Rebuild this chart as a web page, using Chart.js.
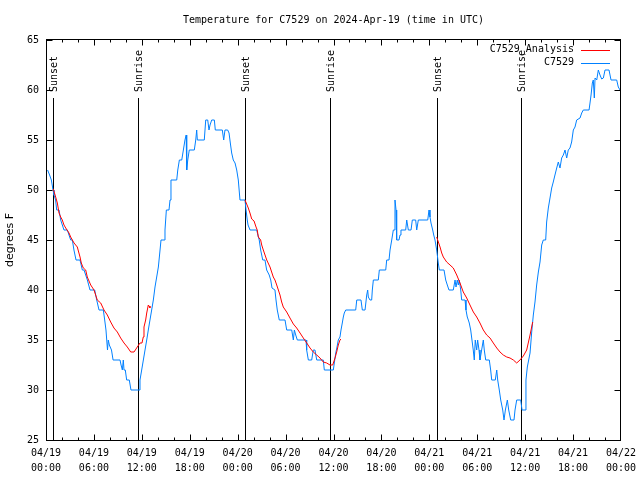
<!DOCTYPE html>
<html>
<head>
<meta charset="utf-8">
<script src="https://cdn.jsdelivr.net/npm/chart.js@4.4.1/dist/chart.umd.min.js"></script>
<style>
html,body{margin:0;padding:0;background:#fff;}
#wrap{width:640px;height:480px;}
</style>
</head>
<body>
<div id="wrap"><canvas id="c" width="640" height="480"></canvas></div>
<script>
// ---- DATA ----
const chartTitle = "Temperature for C7529 on 2024-Apr-19 (time in UTC)";
const yAxisTitle = "degrees F";
const obsLabel = "C7529";
const anaLabel = "C7529_Analysis";

// Observations: hours since 04/19 00:00 UTC, temperature (F)
const obsHours = [0.2,0.45,0.67,0.88,1.0,1.2,1.34,1.63,1.84,2.25,2.67,3.09,3.3,3.5,3.76,4.26,4.55,4.76,5.18,5.51,6.1,6.35,6.64,7.18,7.35,7.51,7.7,7.8,7.93,8.2,8.4,9.27,9.4,9.56,9.68,9.77,9.93,10.1,10.43,10.64,11.65,
11.77,11.98,12.19,12.4,12.61,12.81,13.02,13.23,13.44,13.65,13.86,14.07,14.28,14.4,14.8,14.9,15.07,15.4,15.53,15.65,16.37,16.5,16.7,17.0,17.2,17.4,17.55,17.62,17.75,17.94,18.57,18.75,18.87,18.95,19.82,20.0,20.25,20.41,20.54,20.75,21.08,21.2,22.08,22.25,22.41,22.75,22.92,23.08,23.25,23.45,23.67,23.88,24.08,24.29,24.92,
25.05,25.2,25.3,25.55,26.38,26.59,26.7,26.88,27.14,27.42,27.63,27.95,28.14,28.3,28.67,28.8,28.96,29.21,29.93,30.14,30.77,30.97,31.1,31.27,31.47,32.56,32.64,32.85,33.27,33.47,33.68,33.9,34.72,34.85,35.98,
36.1,36.28,36.44,36.6,36.81,36.94,37.1,37.23,37.35,37.53,38.78,38.91,39.44,39.61,39.95,40.16,40.28,40.36,40.57,40.78,40.86,40.99,41.61,41.74,42.54,42.66,42.95,43.08,43.29,43.49,43.61,43.7,43.83,43.91,44.2,44.33,44.45,45.04,45.17,45.37,45.71,45.87,46.29,46.42,46.62,47.8,47.96,
48.08,48.21,48.42,48.55,48.71,48.92,49.0,49.12,49.25,49.84,50.05,50.25,50.46,51.0,51.22,51.34,51.5,51.63,51.75,51.93,52.05,52.47,52.59,52.75,52.88,53.0,53.18,53.34,53.5,53.63,53.75,53.93,54.05,54.22,54.34,54.55,54.76,54.88,55.06,55.51,55.68,55.81,56.26,56.44,56.56,56.76,56.94,57.19,57.35,57.52,57.77,57.94,58.19,58.6,58.73,58.94,59.44,59.61,59.98,
60.1,60.27,60.44,60.61,60.82,61.02,61.23,61.44,61.65,61.86,62.07,62.27,62.57,62.69,62.9,63.11,63.32,63.52,63.73,63.95,64.15,64.36,64.57,64.78,64.99,65.2,65.4,65.61,65.82,66.03,66.24,66.45,66.87,67.08,67.28,68.0,68.12,68.25,68.41,68.53,68.66,68.75,68.96,69.16,69.37,69.58,69.79,70.0,70.5,70.75,71.46,71.66,71.88];
const obsTemps = [52,51.5,51,50,49.5,49,48,48,47,46,46,45,45,44,43,43,42,42,41,40,40,39,38,38,37,36,34,35,34.5,34,33,33,32.5,32,33,32,32,31,31,30,30,
31,32,33,34,35,36,37,38,39,40.3,41.3,42.3,44,45,45,46,48,48,49,51,51,52,53,53,54,55,55.5,52,53,54,54,55,56,55,55,57,57,56,56.5,57,57,56,56,55,56,56,55.7,54.7,53.7,53,52.7,52,51,49,49,
48,47,46.5,46,46,45.3,45,44,43,43,42,41.5,41,40.2,40,39,38,37,37,36,36,35,36,35.5,35,35,34,33,33,34,34,33,33,32,32,
32.7,33.7,34.3,35,35.3,36,36.7,37.3,37.7,38,38,39,39,38,38,39.5,40,39.3,39,39,40,41,41,42,42,43,43,44,45,46,46,49,48,45,45,45.5,46,46,47,46,46,47,47,46,47,47,48,
47.3,46.7,46,45.5,45,44,43.5,42.7,42,42,41,40.5,40,40,41,40.3,41,40.5,41,40,39,39,38,37.3,37,36.7,36,35,34,33,35,34,35,34,33,34,35,34,33,33,32,31,31,32,31,30,29,28,27,28,29,28,27,27,28,29,29,28,28,
31,32.3,33,33.7,35.8,37.5,38.8,40.5,41.8,42.8,44.5,45,45,46.8,48.2,49.2,50.2,50.8,51.5,52.2,52.8,52.2,53.2,53.5,54,53.2,54,54.2,54.8,56,56.3,57,57.2,57.7,58,58,58.7,59.5,60.7,61,59.2,61.2,61,62,61.5,61.1,61.2,62,62,61,61,60.3,60];

// Analysis: three night segments (null = gap)
const anaHours = [0.91,1.21,1.42,1.63,1.84,2.04,2.25,2.47,2.88,3.09,3.51,3.92,4.26,4.42,4.67,4.97,5.17,5.6,6.01,6.42,6.85,7.26,7.68,8.1,8.51,8.93,9.35,9.77,10.18,10.61,11.02,11.43,11.77,12.02,12.18,12.27,12.48,12.61,12.81,12.9,13.02,
18,
24.92,25.33,25.54,25.76,26.05,26.3,26.45,26.59,26.88,27.01,27.21,27.64,28.05,28.46,28.67,28.89,29.3,29.51,29.71,30.14,30.55,30.97,31.39,31.81,32.22,32.65,33.06,33.47,33.9,34.31,34.72,35.15,35.56,35.9,36.19,36.4,36.6,36.81,36.94,
42,
48.92,49.13,49.34,49.55,49.75,50.17,50.59,51.0,51.43,51.84,52.25,52.68,53.09,53.51,53.93,54.34,54.76,55.18,55.6,56.01,56.44,56.85,57.26,57.69,58.1,58.52,58.94,59.35,59.77,60.19,60.61,60.94];
const anaTemps = [50.1,49.3,48.7,47.7,47.3,47,46.5,46.2,45.7,45.3,44.7,44.3,43.3,42.7,42.2,42,41.3,40.5,40,39,38.7,38,37.5,36.8,36.2,35.8,35.2,34.7,34.3,33.8,33.8,34.3,34.7,34.7,35.3,36.3,37,37.7,38.5,38.4,38.2,
null,
49,48.2,47.7,47.1,46.9,46.3,46,45.3,45,44.5,44,43,42.3,41.3,41,40.5,39.5,38.8,38.3,37.8,37.2,36.6,36.2,35.7,35.2,34.7,34.2,33.8,33.5,33.2,32.8,32.7,32.5,32.5,33.2,33.8,34.5,35,35.1,
null,
45.3,44.8,44.3,43.7,43.3,42.8,42.5,42.2,41.5,40.7,39.8,39.2,38.5,37.8,37.3,36.7,36,35.5,35.2,34.7,34.2,33.8,33.5,33.3,33.2,33,32.7,33,33.4,34,35.5,36.8];

// Sun events
const eventHours = [0.88, 11.56, 24.96, 35.6, 49.0, 59.5];
const eventLabels = ["Sunset","Sunrise","Sunset","Sunrise","Sunset","Sunrise"];
const eventTop = 59.2;

// Axis tick labels
const xTickDates = ["04/19","04/19","04/19","04/19","04/20","04/20","04/20","04/20","04/21","04/21","04/21","04/21","04/22"];
const xTickTimes = ["00:00","06:00","12:00","18:00","00:00","06:00","12:00","18:00","00:00","06:00","12:00","18:00","00:00"];
const xMin = 0, xMax = 72, xStep = 6, xMinorStep = 2;
const yMin = 25, yMax = 65, yStep = 5;

// ---- BUILD ----
const MONO = "'DejaVu Sans Mono', 'Liberation Mono', monospace";
const RED = "#ff0000", BLUE = "#0080ff";

const obsData = obsHours.map((h,i)=>({x:h,y:obsTemps[i]}));
const anaData = anaHours.map((h,i)=>({x:h,y:anaTemps[i]}));

const datasets = [
  {label: anaLabel, data: anaData, borderColor: RED, borderWidth: 1, pointRadius: 0, tension: 0, spanGaps: false, order: 1},
  {label: obsLabel, data: obsData, borderColor: BLUE, borderWidth: 1, pointRadius: 0, tension: 0, order: 2}
];

const gnuplotDecor = {
  id: 'gnuplotDecor',
  beforeDatasetsDraw(chart) {
    const ctx = chart.ctx;
    const xs = chart.scales.x, ys = chart.scales.y;
    ctx.save();
    ctx.strokeStyle = "#000"; ctx.lineWidth = 1;
    ctx.beginPath();
    eventHours.forEach((h)=>{
      const px = Math.round(xs.getPixelForValue(h)) + 0.5;
      ctx.moveTo(px, Math.round(ys.getPixelForValue(eventTop)));
      ctx.lineTo(px, ys.getPixelForValue(yMin));
    });
    ctx.stroke();
    ctx.restore();
  },
  afterDraw(chart) {
    const ctx = chart.ctx, a = chart.chartArea;
    const xs = chart.scales.x, ys = chart.scales.y;
    ctx.save();
    ctx.strokeStyle = "#000"; ctx.lineWidth = 1;
    // border
    const L = Math.round(a.left) + 0.5, R = Math.round(a.right) - 0.5;
    const T = Math.round(a.top) - 0.5, B = Math.round(a.bottom) + 0.5;
    ctx.strokeRect(L, T, R - L, B - T);
    // ticks
    ctx.beginPath();
    for (let v = xMin; v <= xMax; v += xMinorStep) {
      const px = Math.min(Math.round(xs.getPixelForValue(v)) + 0.5, R);
      const len = (v % xStep === 0) ? 6 : 3;
      ctx.moveTo(px, B); ctx.lineTo(px, B - len);
      ctx.moveTo(px, T); ctx.lineTo(px, T + len);
    }
    for (let v = yMin; v <= yMax; v += yStep) {
      const py = Math.round(ys.getPixelForValue(v)) + 0.5;
      ctx.moveTo(L, py); ctx.lineTo(L + 6, py);
      ctx.moveTo(R, py); ctx.lineTo(R - 6, py);
    }
    ctx.stroke();
    // title
    ctx.fillStyle = "#000";
    ctx.font = "10px " + MONO;
    ctx.textAlign = "center"; ctx.textBaseline = "middle";
    ctx.fillText(chartTitle, (a.left + a.right)/2, 20);
    // y axis title
    ctx.save();
    ctx.translate(10, (a.top + a.bottom)/2);
    ctx.rotate(-Math.PI/2);
    ctx.font = "11px 'DejaVu Sans', sans-serif";
    ctx.fillText(yAxisTitle, 0, 0);
    ctx.restore();
    // event labels
    eventHours.forEach((h,i)=>{
      const px = Math.round(xs.getPixelForValue(h)) + 0.5;
      const py = ys.getPixelForValue(eventTop) - 6;
      ctx.save();
      ctx.translate(px + 1, py);
      ctx.rotate(-Math.PI/2);
      ctx.font = "10px " + MONO;
      ctx.textAlign = "left"; ctx.textBaseline = "middle";
      ctx.fillText(eventLabels[i], 0, 0);
      ctx.restore();
    });
    // legend
    const entries = [[anaLabel, RED], [obsLabel, BLUE]];
    entries.forEach((e, i)=>{
      const y = 49.5 + i*13;
      ctx.font = "10px " + MONO;
      ctx.textAlign = "right"; ctx.textBaseline = "middle";
      ctx.fillStyle = "#000";
      ctx.fillText(e[0], 574, y);
      ctx.strokeStyle = e[1];
      ctx.beginPath();
      ctx.moveTo(581, Math.round(y)+0.5); ctx.lineTo(610, Math.round(y)+0.5);
      ctx.stroke();
    });
    ctx.restore();
  }
};

new Chart(document.getElementById('c'), {
  type: 'line',
  data: { datasets },
  options: {
    responsive: false,
    animation: false,
    devicePixelRatio: 1,
    layout: { padding: { left: 0, right: 19, top: 40, bottom: 0 } },
    plugins: { legend: { display: false }, title: { display: false }, tooltip: { enabled: false } },
    scales: {
      x: {
        type: 'linear', min: xMin, max: xMax,
        grid: { display: false, drawTicks: false },
        border: { display: false },
        afterFit(s) { s.height = 40; s.paddingLeft = 0; s.paddingRight = 0; },
        afterBuildTicks(s) {
          const t = [];
          for (let v = xMin; v <= xMax; v += xStep) t.push({value: v});
          s.ticks = t;
        },
        ticks: {
          autoSkip: false, maxRotation: 0, minRotation: 0, padding: 6,
          color: "#000",
          font: { family: MONO, size: 10, lineHeight: 1.5 },
          callback(v) { const i = Math.round((v - xMin) / xStep); return [xTickDates[i], xTickTimes[i]]; }
        }
      },
      y: {
        type: 'linear', min: yMin, max: yMax,
        grid: { display: false, drawTicks: false },
        border: { display: false },
        afterFit(s) { s.width = 46; s.paddingTop = 0; s.paddingBottom = 0; },
        ticks: {
          stepSize: yStep, padding: 7, color: "#000",
          font: { family: MONO, size: 10 }
        }
      }
    }
  },
  plugins: [gnuplotDecor]
});
</script>
</body>
</html>
